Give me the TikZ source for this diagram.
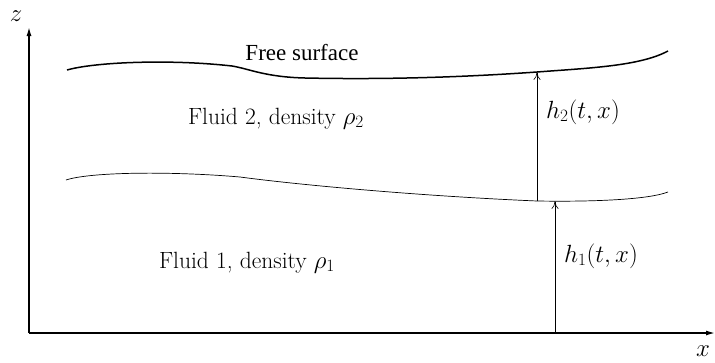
\documentclass[tikz,border=0pt]{standalone}
\usepackage{fontspec}
\newfontfamily\timesfont{Liberation Serif}
\usetikzlibrary{arrows.meta}
\begin{document}
\begin{tikzpicture}[x=1pt,y=-1pt,
  axis/.style={line width=1.4pt,-{Latex[length=9pt,width=5pt]}},
  harrow/.style={line width=0.6pt,-{To[length=8pt,width=7pt]}},
  lbl/.style={inner sep=0pt,font=\fontsize{23.5}{28}\selectfont},
  surf/.style={line width=1.5pt},
  iface/.style={line width=0.7pt}]
\useasboundingbox (0,0) rectangle (715,362);
\coordinate (O) at (29,333);
\coordinate (ztop) at (29,27);
\coordinate (xend) at (715,333);
\draw[axis] (O) -- (ztop);
\draw[axis] (O) -- (xend);
\node[lbl] (zl) at (16,16) {$z$};
\node[lbl] (xl) at (703,351) {$x$};
% free surface
\draw[surf] (67,70) .. controls (95,62) and (170,59) .. (232,66)
  .. controls (250,69) and (265,77) .. (305,78)
  .. controls (400,80) and (480,76) .. (537,72)
  .. controls (590,68) and (640,66) .. (668,51);
% interface
\draw[iface] (66,180) .. controls (90,172) and (170,171) .. (240,177)
  .. controls (300,185) and (420,196) .. (537,201)
  .. controls (600,202) and (650,199) .. (668,192);
\coordinate (h2b) at (537,201);
\coordinate (h2t) at (537,72);
\coordinate (h1b) at (555,333);
\coordinate (h1t) at (555,201);
\draw[harrow] (h2b) -- (h2t);
\draw[harrow] (h1b) -- (h1t);
\node[lbl,anchor=base west] (h2l) at (546,118) {$h_2(t,x)$};
\node[lbl,anchor=base west] (h1l) at (564,262) {$h_1(t,x)$};
\node[lbl,anchor=base] (f2) at (276,124) {Fluid 2, density $\rho_2$};
\node[lbl,anchor=base] (f1) at (247,268) {Fluid 1, density $\rho_1$};
\node[inner sep=0pt,anchor=base,font=\timesfont\fontsize{23}{27}\selectfont] (fs) at (302,60) {Free surface};
\end{tikzpicture}
\end{document}
